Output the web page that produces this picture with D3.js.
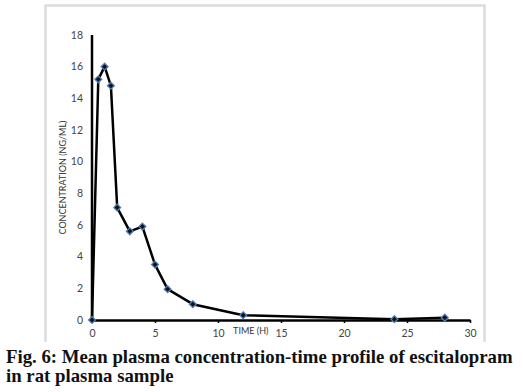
<!DOCTYPE html>
<html>
<head>
<meta charset="utf-8">
<script src="https://cdn.jsdelivr.net/npm/d3@7"></script>
<style>
  html, body { margin: 0; padding: 0; background: #fff; }
  svg { display: block; }
</style>
</head>
<body>
<script>
// Mean plasma concentration of escitalopram vs time
const TIME_H = [0, 0.5, 1, 1.5, 2, 3, 4, 5, 6, 8, 12, 24, 28];
const CONC = [0, 15.2, 16.0, 14.8, 7.1, 5.6, 5.9, 3.5, 1.95, 1.0, 0.3, 0.05, 0.15];
const X_TICKS = [0, 5, 10, 15, 20, 25, 30];
const Y_TICKS = [0, 2, 4, 6, 8, 10, 12, 14, 16, 18];
const CAPTION = [
  'Fig. 6: Mean plasma concentration-time profile of escitalopram',
  'in rat plasma sample',
];

const W = 523, H = 392;
const svg = d3.select('body').append('svg').attr('width', W).attr('height', H);

const x = d3.scaleLinear().domain([0, 30]).range([92, 470]);
const y = d3.scaleLinear().domain([0, 18]).range([320, 35]);

// light frame around the chart area
svg.append('path')
  .attr('d', 'M45.5,342 V5.5 H484.5 V342')
  .attr('fill', 'none')
  .attr('stroke', '#dcdcdc')
  .attr('stroke-width', 2.5);

const font = 'Lato, "Open Sans", sans-serif';

// y tick labels
svg.append('g').selectAll('text')
  .data(Y_TICKS).join('text')
  .attr('x', 83)
  .attr('y', d => y(d))
  .attr('dy', '0.35em')
  .attr('text-anchor', 'end')
  .attr('font-family', font)
  .attr('font-size', 10.5)
  .attr('fill', '#444')
  .text(d => d);

// x axis with small downward ticks
const xAxis = svg.append('g')
  .attr('transform', `translate(0,${y(0)})`)
  .call(d3.axisBottom(x).tickValues(X_TICKS).tickSize(3).tickPadding(7).tickSizeOuter(0));
xAxis.select('.domain').attr('stroke', '#000').attr('stroke-width', 2.5);
xAxis.selectAll('.tick line').attr('stroke', '#000').attr('stroke-width', 1.5);
xAxis.selectAll('.tick text')
  .attr('font-family', font)
  .attr('font-size', 10.5)
  .attr('fill', '#444');

// y axis line
svg.append('line')
  .attr('x1', x(0)).attr('x2', x(0))
  .attr('y1', y(0) + 1).attr('y2', y(18))
  .attr('stroke', '#000')
  .attr('stroke-width', 2.5);

// axis titles
svg.append('text')
  .attr('transform', `translate(66,${y(9)}) rotate(-90)`)
  .attr('text-anchor', 'middle')
  .attr('font-family', font)
  .attr('font-size', 9)
  .attr('fill', '#333')
  .text('CONCENTRATION (NG/ML)');

svg.append('text')
  .attr('x', x(12.6))
  .attr('y', 334)
  .attr('text-anchor', 'middle')
  .attr('font-family', font)
  .attr('font-size', 9)
  .attr('fill', '#333')
  .text('TIME (H)');

// data line
const pts = TIME_H.map((t, i) => [t, CONC[i]]);
svg.append('path')
  .datum(pts)
  .attr('fill', 'none')
  .attr('stroke', '#000')
  .attr('stroke-width', 2.5)
  .attr('stroke-linejoin', 'round')
  .attr('d', d3.line().x(d => x(d[0])).y(d => y(d[1])));

// diamond markers
svg.append('g').selectAll('path')
  .data(pts).join('path')
  .attr('transform', d => `translate(${x(d[0])},${y(d[1])})`)
  .attr('d', d3.symbol(d3.symbolDiamond2, 30))
  .attr('fill', '#111')
  .attr('stroke', '#4f81bd')
  .attr('stroke-width', 1.3);

// caption
svg.append('g').selectAll('text')
  .data(CAPTION).join('text')
  .attr('x', 6)
  .attr('y', (d, i) => 363 + i * 19)
  .attr('font-family', '"Liberation Serif", "Times New Roman", serif')
  .attr('font-weight', 'bold')
  .attr('font-size', 18.8)
  .attr('fill', '#111')
  .text(d => d);
</script>
</body>
</html>
